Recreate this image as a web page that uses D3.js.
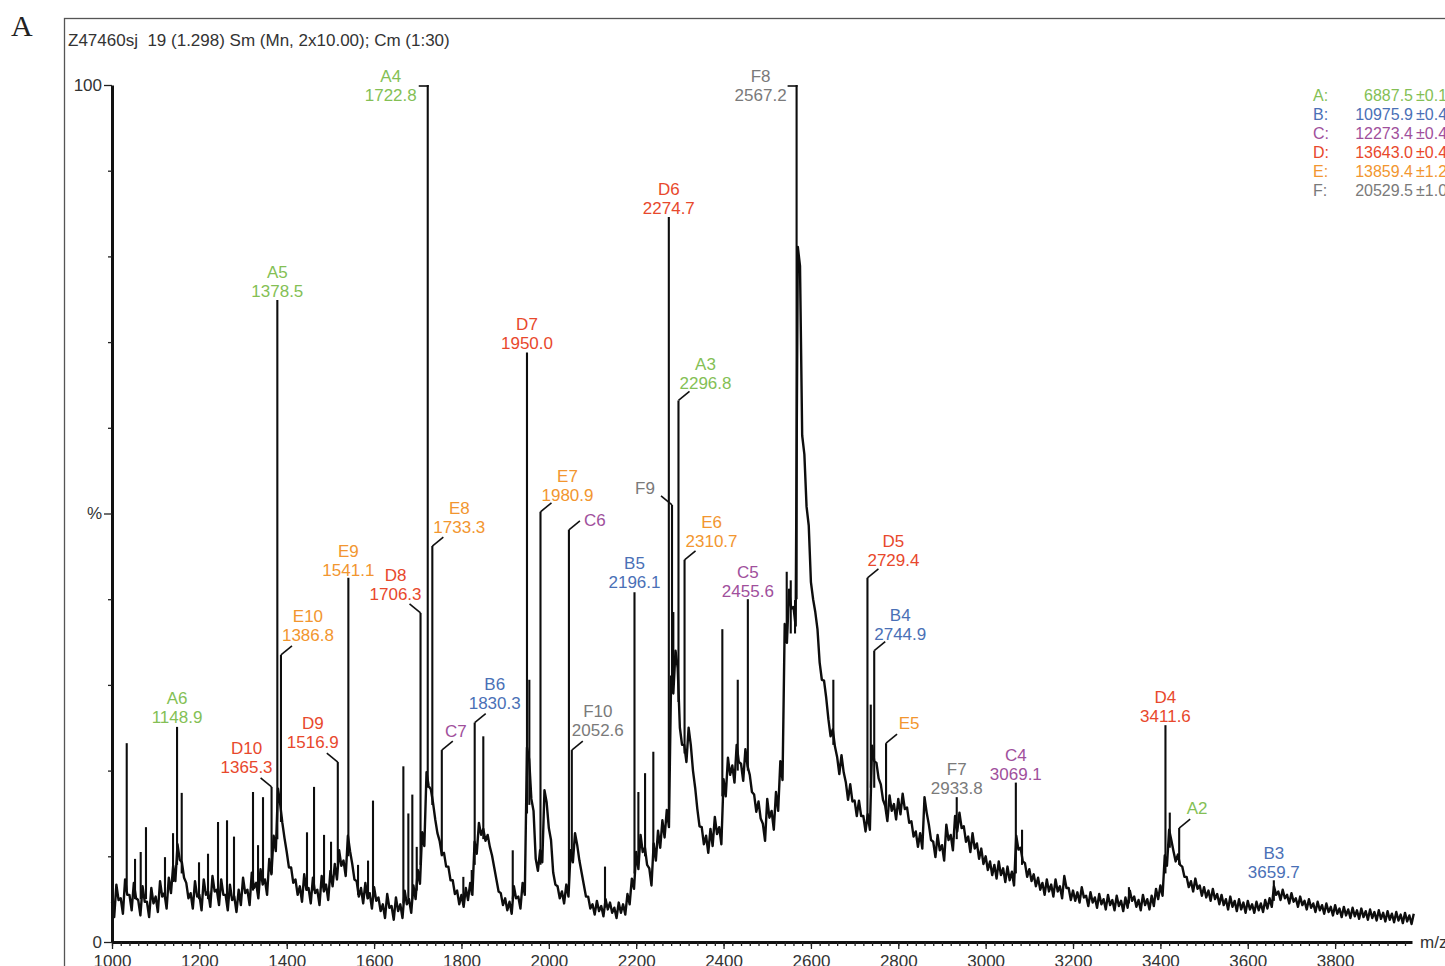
<!DOCTYPE html>
<html>
<head>
<meta charset="utf-8">
<script src="https://cdn.jsdelivr.net/npm/d3@7"></script>
<style>
  body { margin: 0; background: #fff; }
  svg { display: block; }
  text { font-family: "Liberation Sans", Arial, sans-serif; }
</style>
</head>
<body>
<div id="chart"></div>
<script>
// continuum of the spectrum, read every 10 m/z from 1000 to 3980 (% intensity)
const mzStart = 1000, mzStep = 10;
const continuum = [
  3.8, 5.8, 4.2, 6.4, 4.6, 6.0, 4.0, 5.6, 3.8, 5.4,        // 1000
  4.4, 6.2, 4.8, 6.6, 8.0, 10.5, 8.4, 6.0, 4.8, 6.2,       // 1100
  4.6, 6.4, 5.0, 6.8, 5.2, 6.4, 4.6, 5.8, 4.4, 5.2,        // 1200
  6.6, 5.2, 7.2, 6.0, 7.6, 6.4, 8.8, 11.5, 17.0, 13.0,     // 1300
  9.6, 7.8, 6.4, 5.6, 7.0, 5.4, 6.6, 5.2, 6.8, 5.8,        // 1400
  7.4, 8.2, 9.8, 8.6, 11.5, 8.2, 6.2, 5.4, 6.0, 4.8,       // 1500
  5.6, 4.4, 3.6, 4.8, 3.4, 4.4, 3.6, 5.2, 4.2, 5.8,        // 1600
  7.6, 12.0, 19.0, 17.0, 13.5, 11.0, 9.6, 8.0, 6.4, 5.2,   // 1700
  4.8, 5.6, 6.2, 11.0, 13.2, 12.5, 11.8, 9.4, 6.6, 5.0,    // 1800
  4.4, 4.0, 5.8, 4.6, 6.2, 22.0, 16.0, 9.0, 10.0, 17.0,    // 1900
  12.6, 7.4, 5.8, 5.2, 6.0, 10.0, 12.0, 8.8, 6.0, 4.6,     // 2000
  3.8, 4.2, 3.6, 4.4, 4.0, 3.4, 4.0, 3.8, 5.0, 6.8,        // 2100
  9.5, 11.5, 10.0, 7.6, 10.5, 12.0, 13.2, 14.4, 30.0, 33.0,  // 2200
  24.0, 22.0, 24.0, 19.0, 14.5, 12.4, 11.4, 12.2, 13.6, 12.4, // 2300
  18.0, 20.5, 19.6, 22.0, 19.8, 21.5, 18.5, 16.2, 15.4, 12.8, // 2400
  15.6, 14.2, 16.4, 20.0, 36.0, 40.0, 38.0, 80.0, 58.0, 49.7, // 2500
  41.0, 37.5, 31.6, 29.5, 25.0, 23.8, 20.6, 20.8, 17.6, 17.4, // 2600
  15.6, 15.6, 13.8, 14.0, 22.0, 20.0, 17.5, 15.0, 16.2, 15.2, // 2700
  15.8, 16.4, 14.8, 13.2, 12.0, 11.8, 16.0, 12.8, 10.8, 11.6, // 2800
  10.4, 12.8, 11.6, 13.8, 14.2, 12.6, 11.4, 11.8, 10.6, 10.0, // 2900
  9.2, 8.6, 8.2, 8.6, 7.8, 8.0, 7.4, 11.6, 10.2, 8.4,      // 3000
  7.8, 7.2, 6.8, 6.2, 6.6, 6.0, 6.6, 5.8, 7.0, 5.6,        // 3100
  5.4, 5.2, 5.8, 4.8, 5.2, 4.6, 5.0, 4.4, 4.9, 4.3,        // 3200
  4.8, 4.2, 4.6, 5.4, 4.7, 4.3, 4.9, 4.4, 4.8, 5.6,        // 3300
  6.0, 9.5, 12.5, 10.0, 9.6, 8.2, 7.0, 6.5, 6.8, 6.0,      // 3400
  5.8, 5.4, 5.6, 5.0, 4.9, 4.4, 4.7, 4.2, 4.4, 4.0,        // 3500
  4.3, 3.9, 4.2, 4.0, 4.4, 4.6, 6.0, 5.4, 5.6, 5.0,        // 3600
  5.2, 4.6, 4.8, 4.3, 4.5, 4.0, 4.2, 3.8, 4.0, 3.6,        // 3700
  3.8, 3.4, 3.6, 3.3, 3.5, 3.2, 3.4, 3.1, 3.3, 3.0,        // 3800
  3.2, 2.9, 3.1, 2.8, 3.0, 2.7, 2.9, 2.6, 2.8              // 3900
];

// half-width of the noisy trace, read per 100 m/z (1000 ... 3900)
const noiseBand = [
  0.9, 0.9, 0.9, 0.9, 0.9, 0.9, 0.8, 0.8, 0.7, 0.7,
  0.7, 0.6, 1.0, 1.0, 1.0, 1.1, 1.0, 0.9, 0.9, 0.9,
  0.8, 0.7, 0.6, 0.6, 0.6, 0.6, 0.5, 0.5, 0.5, 0.5
];

// sharp peaks: [m/z, top %, foot %]
const peaks = [
  [1033.7, 23.2, 6], [1052.7, 9.7, 5], [1065.7, 10.5, 5], [1077.8, 13.4, 5],
  [1121.3, 9.9, 5], [1139.7, 12.7, 7], [1148.9, 25.1, 9], [1159.6, 17.4, 8],
  [1199.2, 9.3, 5], [1219.8, 10.3, 5], [1242.7, 14.0, 5], [1263.3, 14.2, 5],
  [1279.3, 12.3, 5], [1322.8, 17.5, 6], [1334.3, 11.3, 6], [1345.7, 16.9, 7],
  [1365.3, 18.1, 8], [1378.5, 74.9, 12], [1386.8, 33.5, 14], [1446.4, 12.8, 6],
  [1462.5, 18.1, 6], [1485.4, 12.5, 6], [1501.4, 11.7, 7], [1516.9, 21.0, 9],
  [1541.1, 42.5, 10], [1563.2, 9.0, 5.5], [1586.1, 9.5, 5], [1597.5, 16.5, 5],
  [1667.0, 20.5, 4.5], [1678.4, 15.0, 4.5], [1687.5, 17.2, 5], [1697.6, 11.1, 6],
  [1706.3, 38.4, 9], [1722.8, 100, 18], [1733.3, 46.2, 16], [1755.0, 22.4, 10],
  [1804.3, 7.6, 4.8], [1823.5, 8.4, 5.5], [1830.3, 25.6, 9], [1850.0, 24.0, 12],
  [1917.4, 10.7, 5], [1950.0, 68.8, 15], [1955.4, 30.6, 16], [1980.9, 50.2, 9],
  [2046.0, 48.1, 6], [2052.6, 22.4, 10], [2128.6, 8.8, 4], [2196.1, 40.8, 8],
  [2205.0, 17.5, 10], [2220.3, 19.7, 10], [2239.2, 22.2, 10], [2274.7, 84.6, 15],
  [2282.0, 51.0, 30], [2285.0, 38.5, 30], [2296.8, 63.2, 28], [2310.7, 44.6, 22],
  [2397.2, 36.5, 17], [2432.5, 30.6, 20], [2455.6, 40.0, 20], [2544.6, 43.2, 36],
  [2553.8, 42.2, 36], [2563.6, 39.9, 36], [2567.2, 100, 40], [2651.3, 30.6, 23],
  [2729.4, 42.5, 14], [2737.0, 27.7, 18], [2744.9, 34.0, 18], [2772.0, 23.2, 15],
  [2933.8, 16.9, 12], [3069.1, 18.6, 8], [3083.3, 13.1, 9], [3328.0, 6.4, 4.5],
  [3411.6, 25.3, 8], [3421.5, 15.1, 11], [3443.0, 13.3, 9], [3659.7, 7.2, 4.8]
];

// annotated peaks: [label, m/z text, peak m/z]
const peakLabels = [
  ["A6", "1148.9", 1148.9], ["D10", "1365.3", 1365.3], ["A5", "1378.5", 1378.5],
  ["E10", "1386.8", 1386.8], ["D9", "1516.9", 1516.9], ["E9", "1541.1", 1541.1],
  ["D8", "1706.3", 1706.3], ["A4", "1722.8", 1722.8], ["E8", "1733.3", 1733.3],
  ["C7", "", 1755.0], ["B6", "1830.3", 1830.3], ["D7", "1950.0", 1950.0],
  ["E7", "1980.9", 1980.9], ["C6", "", 2046.0], ["F10", "2052.6", 2052.6],
  ["B5", "2196.1", 2196.1], ["D6", "2274.7", 2274.7], ["F9", "", 2282.0],
  ["A3", "2296.8", 2296.8], ["E6", "2310.7", 2310.7], ["C5", "2455.6", 2455.6],
  ["F8", "2567.2", 2567.2], ["D5", "2729.4", 2729.4], ["B4", "2744.9", 2744.9],
  ["E5", "", 2772.0], ["F7", "2933.8", 2933.8], ["C4", "3069.1", 3069.1],
  ["D4", "3411.6", 3411.6], ["A2", "", 3443.0], ["B3", "3659.7", 3659.7]
];

// deconvoluted masses
const seriesKeys = ["A", "B", "C", "D", "E", "F"];
const seriesMass = ["6887.5", "10975.9", "12273.4", "13643.0", "13859.4", "20529.5"];
const seriesErr = ["±0.1", "±0.4", "±0.4", "±0.4", "±1.2", "±1.0"];
const seriesColor = ["#84bf55", "#4a70b6", "#a04f9c", "#e8482c", "#f2962f", "#7a7a7a"];

const xTickValues = [1000, 1200, 1400, 1600, 1800, 2000, 2200, 2400, 2600, 2800, 3000, 3200, 3400, 3600, 3800];
const yTickValues = [0, 50, 100];
const yTickLabels = ["0", "%", "100"];
const title = "Z47460sj  19 (1.298) Sm (Mn, 2x10.00); Cm (1:30)";

// label placement: [kind, dx, dy] of the lowest text line relative to peak top
const labelLayout = {
  A4: ["flag", -37, 16], F8: ["flag", -36, 16],
  A5: ["above", 0, -3], D6: ["above", 0, -3], D7: ["above", 0, -3], B5: ["above", 0, -4],
  E9: ["above", 0, -2], C5: ["above", 0, -2], A6: ["above", 0, -4], D4: ["above", 0, -3],
  F7: ["above", 0, -3], C4: ["above", 0, -3], B3: ["above", 0, -2],
  A3: ["right", 27, -11], E7: ["right", 27, -11], E8: ["right", 27, -13], E6: ["right", 27, -13],
  D5: ["right", 26, -12], B4: ["right", 26, -11], E10: ["right", 27, -14], B6: ["right", 20, -14],
  F10: ["right", 26, -14], C6: ["right", 26, -4], C7: ["right", 14, -13], E5: ["right", 23, -14],
  A2: ["right", 18, -14],
  D8: ["left", -25, -13], D9: ["left", -25, -14], D10: ["left", -25, -14], F9: ["left", -27, -11]
};

const width = 1445, height = 966;

let svg = d3.select("#chart")
  .append("svg")
  .attr("width", width)
  .attr("height", height);

// frame and panel letter
svg.append("rect")
  .attr("x", 64.5).attr("y", 18.5)
  .attr("width", 1500).attr("height", 1000)
  .attr("fill", "none")
  .attr("stroke", "#555")
  .attr("stroke-width", 1.3);

svg.append("text")
  .attr("x", 11).attr("y", 36)
  .style("font-family", "'Liberation Serif', 'Times New Roman', serif")
  .style("font-size", "30px")
  .attr("fill", "#222")
  .text("A");

svg.append("text")
  .attr("x", 68).attr("y", 46)
  .attr("xml:space", "preserve")
  .style("white-space", "pre")
  .style("font-size", "17px")
  .attr("fill", "#333")
  .text(title);

let x = d3.scaleLinear().domain([1000, 3976]).range([112, 1412]);
let y = d3.scaleLinear().domain([0, 100]).range([942, 85]);

// spectrum trace: each reading is drawn across the top and bottom of its noise band
let line = d3.line()
  .x(function (d) { return x(d[0]); })
  .y(function (d) { return y(d[1]); });

let traceData = [];
continuum.forEach(function (v, i) {
  let mz = mzStart + i * mzStep;
  let h = noiseBand[Math.floor((mz - 1000) / 100)];
  traceData.push([mz, v + h]);
  if (mz + mzStep / 2 <= 3976) traceData.push([mz + mzStep / 2, Math.max(v - h, 0.5)]);
});

svg.append("path")
  .datum(traceData)
  .attr("fill", "none")
  .attr("stroke", "#0d0d0d")
  .attr("stroke-width", 2.4)
  .attr("stroke-linejoin", "round")
  .attr("d", line);

// sharp peaks
svg.append("g")
  .selectAll("line")
  .data(peaks)
  .enter().append("line")
  .attr("x1", function (d) { return x(d[0]); })
  .attr("x2", function (d) { return x(d[0]); })
  .attr("y1", function (d) { return y(d[2]); })
  .attr("y2", function (d) { return y(d[1]); })
  .attr("stroke", "#0d0d0d")
  .attr("stroke-width", 2.1);

// x axis
svg.append("g")
  .attr("transform", "translate(0,942)")
  .call(d3.axisBottom(x).tickValues(xTickValues).tickSize(7).tickSizeOuter(0).tickPadding(6).tickFormat(d3.format("d")));
svg.append("g")
  .attr("transform", "translate(0,942)")
  .call(d3.axisBottom(x).tickValues(d3.range(1000, 3976, 20)).tickSize(4).tickSizeOuter(0).tickFormat(""))
  .call(function (g) { g.select(".domain").remove(); });

// y axis
svg.append("g")
  .attr("transform", "translate(112,0)")
  .call(d3.axisLeft(y).tickValues(yTickValues).tickSize(8).tickSizeOuter(0).tickPadding(2)
    .tickFormat(function (d, i) { return yTickLabels[i]; }));
svg.append("g")
  .attr("transform", "translate(112,0)")
  .call(d3.axisLeft(y).tickValues([10, 20, 30, 40, 60, 70, 80, 90]).tickSize(4).tickFormat(""))
  .call(function (g) { g.select(".domain").remove(); });

svg.selectAll(".domain").attr("stroke", "#111").attr("stroke-width", 3);
svg.selectAll(".tick line").attr("stroke", "#222").attr("stroke-width", 1.3);
svg.selectAll(".tick text")
  .style("font-family", "'Liberation Sans', Arial, sans-serif")
  .style("font-size", "17px")
  .attr("fill", "#333");

svg.append("text")
  .attr("x", 1420).attr("y", 948)
  .style("font-size", "17px")
  .attr("fill", "#333")
  .text("m/z");

// peak annotations
function colorOf(name) { return seriesColor[seriesKeys.indexOf(name[0])]; }

let ann = svg.append("g");
peakLabels.forEach(function (d) {
  let pk = peaks.find(function (p) { return p[0] === d[2]; });
  let px = x(pk[0]), py = y(pk[1]);
  let lay = labelLayout[d[0]];
  let tx = px + lay[1], ty = py + lay[2];
  let col = colorOf(d[0]);
  let lines = d[1] ? [d[0], d[1]] : [d[0]];
  lines.forEach(function (t, i) {
    ann.append("text")
      .attr("x", tx)
      .attr("y", ty - (lines.length - 1 - i) * 19)
      .attr("text-anchor", "middle")
      .style("font-size", "17px")
      .attr("fill", col)
      .text(t);
  });
  if (lay[0] === "flag") {
    ann.append("line")
      .attr("x1", px - 9).attr("x2", px + 1)
      .attr("y1", py + 1).attr("y2", py + 1)
      .attr("stroke", "#111").attr("stroke-width", 1.6);
  } else if (lay[0] === "right" || lay[0] === "left") {
    let s = lay[0] === "right" ? 1 : -1;
    ann.append("line")
      .attr("x1", px).attr("y1", py)
      .attr("x2", px + s * 11).attr("y2", py - 9)
      .attr("stroke", "#111").attr("stroke-width", 1.6);
  }
});

// legend of deconvoluted masses
let leg = svg.append("g");
seriesKeys.forEach(function (k, i) {
  let yy = 101 + i * 19;
  leg.append("text").attr("x", 1313).attr("y", yy)
    .style("font-size", "16px").attr("fill", seriesColor[i]).text(k + ":");
  leg.append("text").attr("x", 1413).attr("y", yy).attr("text-anchor", "end")
    .style("font-size", "16px").attr("fill", seriesColor[i]).text(seriesMass[i]);
  leg.append("text").attr("x", 1416).attr("y", yy)
    .style("font-size", "16px").attr("fill", seriesColor[i]).text(seriesErr[i]);
});
</script>
</body>
</html>
